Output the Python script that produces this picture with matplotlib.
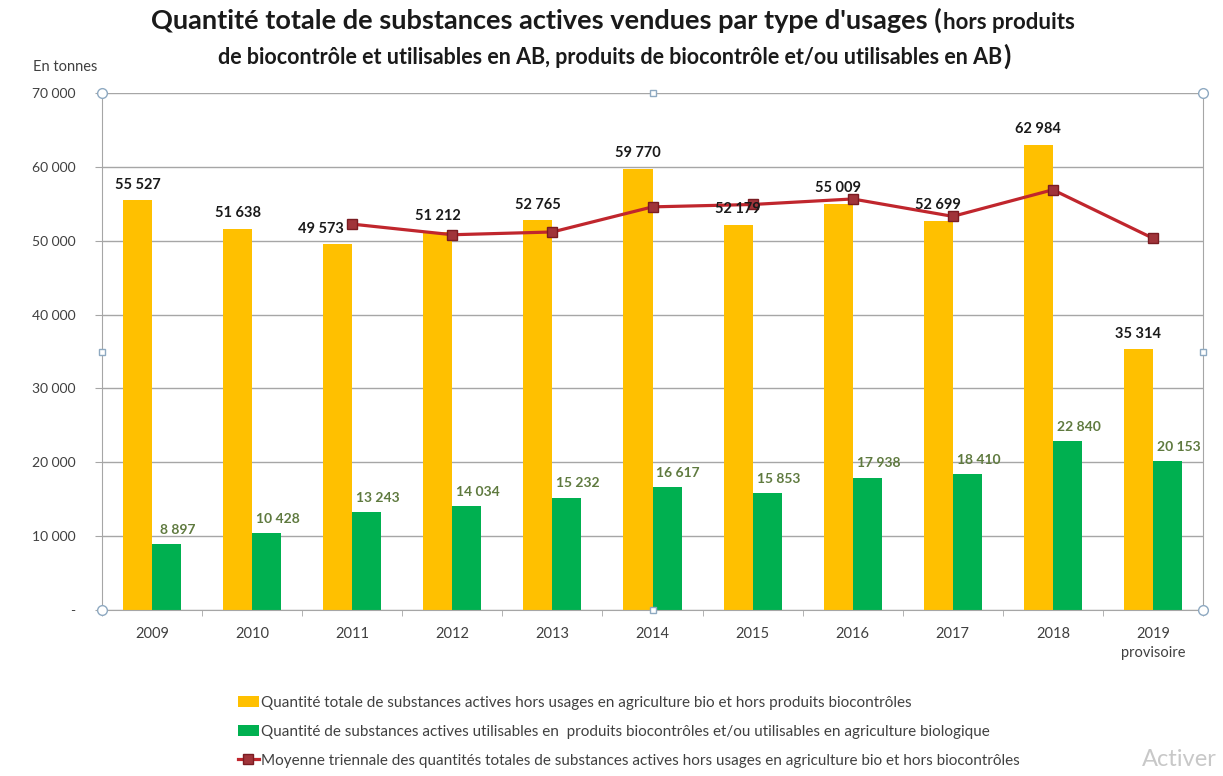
import numpy as np
import matplotlib.pyplot as plt

plt.rcParams['font.family'] = ['Lato', 'DejaVu Sans']

# data (tonnes)
years = ['2009', '2010', '2011', '2012', '2013', '2014', '2015', '2016', '2017', '2018', '2019\nprovisoire']
total_hors_bio = [55527, 51638, 49573, 51212, 52765, 59770, 52179, 55009, 52699, 62984, 35314]
biocontrole_ab = [8897, 10428, 13243, 14034, 15232, 16617, 15853, 17938, 18410, 22840, 20153]
moyenne_years = ['2011', '2012', '2013', '2014', '2015', '2016', '2017', '2018', '2019\nprovisoire']
moyenne_triennale = [52246, 50808, 51183, 54582, 54905, 55653, 53296, 56897, 50332]

ORANGE = '#FFC000'
GREEN = '#00B050'
RED = '#C0262D'
DARK = '#1a1a1a'


def fmt(v):
    return f"{v:,}".replace(',', ' ')


fig = plt.figure(figsize=(12.23, 7.76), dpi=100)
ax = fig.add_axes([102 / 1223, 1 - 610 / 776, 1101 / 1223, 517 / 776])

x = np.arange(len(years))
w = 0.29
b1 = ax.bar(x - w / 2, total_hors_bio, w, color=ORANGE, zorder=2)
b2 = ax.bar(x + w / 2, biocontrole_ab, w, color=GREEN, zorder=2)

xm = [years.index(y) for y in moyenne_years]
l1, = ax.plot(xm, moyenne_triennale, color=RED, lw=2.3, marker='s', ms=7,
              mfc='#A0343A', mec='#7A1C22', mew=1, zorder=4)

# value labels
for i, v in enumerate(total_hors_bio):
    dx = -12 if i == 2 else 0
    ax.annotate(fmt(v), (x[i] - w / 2, v), xytext=(dx, 6), textcoords='offset points',
                ha='center', va='bottom', fontsize=10.5, fontweight='bold', color=DARK, zorder=5)
for i, v in enumerate(biocontrole_ab):
    ax.annotate(fmt(v), (x[i] + w / 2, v), xytext=(8, 6), textcoords='offset points',
                ha='center', va='bottom', fontsize=10, fontweight='bold', color='#5F7A3F', zorder=5)

ax.set_xlim(-0.5, len(years) - 0.5)
ax.set_ylim(0, 70000)
yt = np.arange(0, 70001, 10000)
ax.set_yticks(yt)
ax.set_yticklabels(['-'] + [fmt(v) for v in yt[1:]])
ax.set_xticks(x)
ax.set_xticklabels(years, linespacing=1.5)
ax.set_xticks(np.arange(-0.5, len(years), 1), minor=True)
ax.tick_params(axis='x', which='major', length=0, pad=12, labelsize=10.5, colors='#404040')
ax.tick_params(axis='x', which='minor', length=4, color='#A6A6A6')
ax.tick_params(axis='y', length=5, color='#A6A6A6', pad=14, labelsize=10, colors='#404040')
ax.grid(axis='y', color='#A6A6A6', lw=1, zorder=0)
for s in ['left', 'bottom', 'right']:
    ax.spines[s].set_color('#A6A6A6')
ax.spines['top'].set_visible(False)

# selection handles of the plot area
hx = [0, 0.5, 1, 0, 1, 0, 0.5, 1]
hy = [1, 1, 1, 0.5, 0.5, 0, 0, 0]
hm = ['o', 's', 'o', 's', 's', 'o', 's', 'o']
for a, b, m in zip(hx, hy, hm):
    ax.plot(a, b, marker=m, ms=7 if m == 'o' else 5, mfc='white', mec='#8EA9C1',
            transform=ax.transAxes, clip_on=False, zorder=6)

# titles
fig.text(942 / 1223, 1 - 29 / 776, "Quantité totale de substances actives vendues par type d'usages (",
         ha='right', va='baseline', fontsize=19.5, fontweight='bold', color=DARK)
fig.text(943 / 1223, 1 - 29 / 776, "hors produits", ha='left', va='baseline',
         fontsize=16, fontweight='bold', color=DARK)
fig.text(1002 / 1223, 1 - 64 / 776,
         "de biocontrôle et utilisables en AB, produits de biocontrôle et/ou utilisables en AB",
         ha='right', va='baseline', fontsize=15.5, fontweight='bold', color=DARK)
fig.text(1003 / 1223, 1 - 65 / 776, ")", ha='left', va='baseline',
         fontsize=19.5, fontweight='bold', color=DARK)
fig.text(33 / 1223, 1 - 67 / 776, "En tonnes", ha='left', va='center', fontsize=10.5, color='#404040')

handles = [b1, b2, l1]
labels = [
    'Quantité totale de substances actives hors usages en agriculture bio et hors produits biocontrôles',
    'Quantité de substances actives utilisables en  produits biocontrôles et/ou utilisables en agriculture biologique',
    'Moyenne triennale des quantités totales de substances actives hors usages en agriculture bio et hors biocontrôles',
]
fig.legend(handles, labels, loc='upper left', bbox_to_anchor=(224 / 1223, 1 - 682 / 776),
           frameon=False, fontsize=11, labelspacing=0.98, handlelength=1.4, handletextpad=0.15,
           labelcolor='#404040')

fig.text(1142 / 1223, 1 - 760 / 776, "Activer", ha='left', va='center', fontsize=17, color='#C8C8C8')

fig.savefig('out.png', dpi=100)
